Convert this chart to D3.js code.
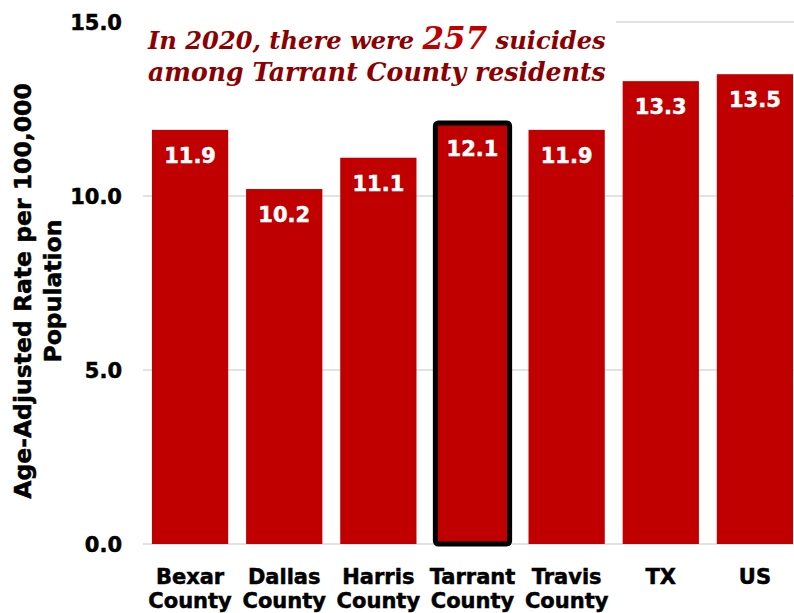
<!DOCTYPE html>
<html>
<head>
<meta charset="utf-8">
<script src="https://cdn.jsdelivr.net/npm/d3@7"></script>
<style>
  html, body { margin: 0; padding: 0; background: #fff; }
  svg { display: block; }
</style>
</head>
<body>
<svg id="chart" width="794" height="613"></svg>
<script>
// Age-adjusted suicide rates, 2020
const categories = ["Bexar County", "Dallas County", "Harris County", "Tarrant County", "Travis County", "TX", "US"];
const rates = [11.9, 10.2, 11.1, 12.1, 11.9, 13.3, 13.5];
const highlighted = ["Tarrant County"];
const yTicks = [0, 5, 10, 15];
const titleLines = [
  [{ t: "In 2020, there were " }, { t: "257", big: true }, { t: " suicides" }],
  [{ t: "among Tarrant County residents" }]
];

const svg = d3.select("#chart");
const W = 794, H = 613;
const margin = { left: 143, right: -8, top: 22, bottom: 69 };

const x = d3.scaleBand()
  .domain(categories)
  .range([margin.left, W - margin.right])
  .paddingInner(0.19)
  .paddingOuter(0.095);

const y = d3.scaleLinear()
  .domain([0, 15])
  .range([H - margin.bottom, margin.top]);

const sansBold = "'DejaVu Sans', Verdana, sans-serif";
const red = "#c00000";

// heavier bold text helper
function heavy(sel, color, w) {
  return sel.attr("stroke", color).attr("stroke-width", w).attr("paint-order", "stroke");
}

// gridlines
svg.append("g")
  .selectAll("line")
  .data(yTicks)
  .join("line")
  .attr("x1", margin.left)
  .attr("x2", W)
  .attr("y1", d => y(d))
  .attr("y2", d => y(d))
  .attr("stroke", "#d9d9d9")
  .attr("stroke-width", 1.5);

// y tick labels
heavy(svg.append("g")
  .selectAll("text")
  .data(yTicks)
  .join("text")
  .attr("x", 122)
  .attr("y", d => y(d))
  .attr("dy", "0.36em")
  .attr("text-anchor", "end")
  .attr("font-family", sansBold)
  .attr("font-weight", "bold")
  .attr("font-size", 21)
  .attr("fill", "#000")
  .text(d => d3.format(".1f")(d)), "#000", 0.5);

// y axis title (two lines, rotated)
const yTitle = heavy(svg.append("text")
  .attr("transform", `translate(0,291) rotate(-90)`)
  .attr("text-anchor", "middle")
  .attr("font-family", sansBold)
  .attr("font-weight", "bold")
  .attr("font-size", 23.5)
  .attr("fill", "#000"), "#000", 0.5);
yTitle.append("tspan").attr("x", 0).attr("y", 31).text("Age-Adjusted Rate per 100,000");
yTitle.append("tspan").attr("x", 0).attr("y", 61).text("Population");

// bars
const data = categories.map((c, i) => ({ c, v: rates[i] }));
svg.append("g")
  .selectAll("rect")
  .data(data)
  .join("rect")
  .attr("x", d => x(d.c))
  .attr("y", d => y(d.v))
  .attr("width", x.bandwidth())
  .attr("height", d => y(0) - y(d.v))
  .attr("fill", red);

// outlined bar
svg.append("g")
  .selectAll("rect")
  .data(data.filter(d => highlighted.includes(d.c)))
  .join("rect")
  .attr("x", d => x(d.c) + 1)
  .attr("y", d => y(d.v))
  .attr("width", x.bandwidth() - 2)
  .attr("height", d => y(0) - y(d.v))
  .attr("rx", 3)
  .attr("fill", "none")
  .attr("stroke", "#000")
  .attr("stroke-width", 5);

// value labels
heavy(svg.append("g")
  .selectAll("text")
  .data(data)
  .join("text")
  .attr("x", d => x(d.c) + x.bandwidth() / 2)
  .attr("y", d => y(d.v) + 33)
  .attr("text-anchor", "middle")
  .attr("font-family", sansBold)
  .attr("font-weight", "bold")
  .attr("font-size", 21)
  .attr("fill", "#fff")
  .text(d => d3.format(".1f")(d.v)), "#fff", 0.5);

// category labels
const xl = heavy(svg.append("g")
  .selectAll("text")
  .data(categories)
  .join("text")
  .attr("x", d => x(d) + x.bandwidth() / 2)
  .attr("y", 584)
  .attr("text-anchor", "middle")
  .attr("font-family", sansBold)
  .attr("font-weight", "bold")
  .attr("font-size", 21)
  .attr("fill", "#000"), "#000", 0.5);
xl.each(function (d) {
  const parts = d.split(" ");
  const t = d3.select(this);
  parts.forEach((p, i) => t.append("tspan")
    .attr("x", x(d) + x.bandwidth() / 2)
    .attr("dy", i === 0 ? 0 : 24)
    .text(p));
});

// headline box
svg.append("rect")
  .attr("x", 140).attr("y", 12)
  .attr("width", 476).attr("height", 82)
  .attr("fill", "#fff");

const headline = svg.append("g");
const headlineLeft = 148, headlineRight = 606;
const baseSize = 25, bigSize = 32;
titleLines.forEach((line, i) => {
  const t = headline.append("text")
    .attr("x", headlineLeft)
    .attr("y", 49 + i * 32)
    .attr("font-family", "'DejaVu Serif', Georgia, serif")
    .attr("font-weight", "bold")
    .attr("font-style", "italic")
    .attr("font-size", baseSize)
    .attr("fill", "#8b0000");
  t.selectAll("tspan")
    .data(line)
    .join("tspan")
    .attr("font-size", s => s.big ? bigSize : null)
    .attr("fill", s => s.big ? red : null)
    .text(s => s.t);
  // fit each headline line into the box width
  const len = t.node().getComputedTextLength();
  const k = (headlineRight - headlineLeft) / len;
  t.attr("font-size", baseSize * k);
  t.selectAll("tspan").attr("font-size", s => s.big ? bigSize * k : null);
});
</script>
</body>
</html>
